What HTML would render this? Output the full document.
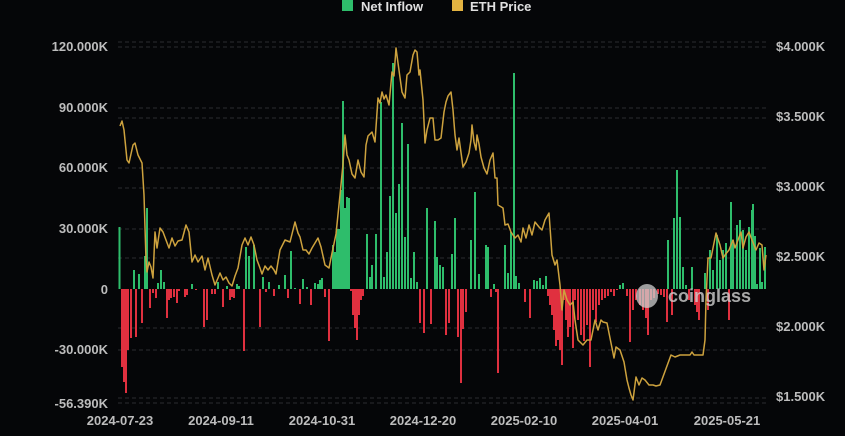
<!DOCTYPE html>
<html><head><meta charset="utf-8"><style>
html,body{margin:0;padding:0;background:#050608;}
svg{display:block;font-family:"Liberation Sans",sans-serif;}
</style></head><body>
<svg id="c" width="845" height="436" viewBox="0 0 845 436">
<rect width="845" height="436" fill="#050608"/>
<g stroke="#2a2c31" stroke-dasharray="4,3" stroke-width="1">
<line x1="118" x2="768" y1="42" y2="42"/><line x1="118" x2="768" y1="47" y2="47"/>
<line x1="118" x2="768" y1="108" y2="108"/><line x1="118" x2="768" y1="118" y2="118"/>
<line x1="118" x2="768" y1="168" y2="168"/><line x1="118" x2="768" y1="188" y2="188"/>
<line x1="118" x2="768" y1="229" y2="229"/><line x1="118" x2="768" y1="258" y2="258"/>
<line x1="118" x2="768" y1="328" y2="328"/><line x1="118" x2="768" y1="350" y2="350"/>
<line x1="118" x2="768" y1="398" y2="398"/><line x1="118" x2="768" y1="403" y2="403"/>
</g>
<g fill="#bdbdbd" font-size="13" text-anchor="end" font-weight="bold">
<text x="108" y="51">120.000K</text><text x="108" y="112">90.000K</text>
<text x="108" y="172">60.000K</text><text x="108" y="233">30.000K</text>
<text x="108" y="294">0</text><text x="108" y="354">-30.000K</text>
<text x="108" y="408">-56.390K</text>
</g>
<g fill="#bdbdbd" font-size="13" text-anchor="start" font-weight="bold">
<text x="776" y="51">$4.000K</text><text x="776" y="121">$3.500K</text>
<text x="776" y="191">$3.000K</text><text x="776" y="261">$2.500K</text>
<text x="776" y="331">$2.000K</text><text x="776" y="401">$1.500K</text>
</g>
<g fill="#bdbdbd" font-size="13" text-anchor="middle" font-weight="bold">
<text x="120" y="425">2024-07-23</text><text x="221" y="425">2024-09-11</text>
<text x="322" y="425">2024-10-31</text><text x="423" y="425">2024-12-20</text>
<text x="524" y="425">2025-02-10</text><text x="625" y="425">2025-04-01</text>
<text x="727" y="425">2025-05-21</text>
</g>
<rect x="342" y="0" width="11" height="11" fill="#2ebd6b"/>
<text x="361" y="11" fill="#e0e0e0" font-size="13" font-weight="bold">Net Inflow</text>
<rect x="452" y="0" width="11" height="11" fill="#e3b341"/>
<text x="470" y="11" fill="#e0e0e0" font-size="13" font-weight="bold">ETH Price</text>
<g id="bars"></g>
<text x="668" y="302" fill="#d0d0d0" fill-opacity="0.8" font-size="18" font-weight="bold">coinglass</text>
<ellipse cx="647" cy="296" rx="11" ry="12" fill="#cfcfcf" fill-opacity="0.75"/>
<polyline id="price" fill="none" stroke="#cda23e" stroke-width="1.5" stroke-linejoin="round"/>
</svg>
<script>
var b=[[119.5,227],[122,367],[124,382],[126,393],[128,350],[131,338],[134,270],[136,337],[139,274],[142,323],[145,256],[147,208],[150,308],[153,293],[156,298],[158,283],[161,270],[164,282],[167,318],[169,300],[171,298],[174,297],[177,303],[179,291],[185,297],[187,295],[192,284],[196,290],[204,327],[207,320],[212,294],[215,294],[218,282],[223,307],[227,286],[230,300],[232,297],[234,298],[237,284],[239,286],[244,351],[246,247],[249,256],[254,245],[260,327],[263,277],[266,292],[269,282],[274,296],[279,285],[285,275],[288,298],[291,251],[295,288],[300,304],[303,279],[307,287],[311,305],[315,283],[318,284],[320,280],[322,278],[325,297],[329,341],[333,245],[335,252],[337,229],[339,229],[341,190],[343,101],[345,208],[347,197],[349,198],[351,291],[353,315],[355,328],[357,340],[359,315],[361,300],[363,296],[367,234],[370,277],[372,265],[376,234],[381,102],[384,277],[387,252],[390,196],[393,63],[396,213],[399,184],[402,123],[405,237],[408,144],[411,278],[414,252],[417,282],[420,323],[424,333],[427,208],[431,324],[435,221],[437,257],[440,265],[443,267],[446,335],[449,323],[452,254],[455,218],[458,337],[461,383],[463,329],[466,312],[471,240],[475,192],[479,274],[486,245],[488,247],[491,297],[494,284],[496,292],[498,373],[505,245],[508,273],[511,232],[514,73],[516,276],[519,283],[525,302],[530,318],[534,280],[537,281],[540,278],[543,285],[546,276],[548,296],[550,305],[552,315],[554,330],[556,346],[558,340],[560,350],[562,365],[564,300],[566,320],[568,337],[570,327],[573,348],[575,300],[578,320],[581,335],[584,341],[587,325],[590,367],[593,310],[596,322],[599,305],[602,300],[605,298],[608,296],[611,292],[614,296],[617,290],[620,285],[623,283],[627,296],[630,342],[633,310],[636,300],[640,305],[643,310],[646,318],[648,335],[651,300],[654,298],[658,294],[661,295],[664,297],[667,322],[668,240],[672,315],[674,218],[677,170],[680,217],[683,267],[686,285],[689,300],[692,267],[695,305],[697,312],[699,320],[701,289],[705,273],[708,310],[710,250],[713,270],[717,235],[720,260],[723,250],[726,243],[729,320],[731,202],[733,240],[737,225],[740,220],[743,230],[746,250],[749,227],[752,210],[753,204],[755,236],[757,284],[760,248],[762,282],[765,247]];
var g=document.getElementById('bars'),s='';
b.forEach(function(p){var y=p[1],x=p[0]-1;if(y<289)s+='<rect x="'+x+'" y="'+y+'" width="2" height="'+(289-y)+'" fill="#2ebd6b"/>';else s+='<rect x="'+x+'" y="289" width="2" height="'+(y-289)+'" fill="#e0303f"/>';});
g.innerHTML=s;
var p="120,126 122,121 124,130 127,160 129,163 133,145 135,143 138,155 142,163 144,195 146,260 147,272 149,262 151,267 153,278 155,232 157,248 160,228 163,232 166,240 169,248 172,238 175,246 178,241 182,240 186,225 189,232 192,262 195,255 198,262 202,256 205,270 208,258 212,275 215,285 218,278 220,273 223,280 226,277 229,283 232,286 235,276 238,268 242,245 245,238 248,245 251,237 254,245 257,260 260,268 262,274 265,266 268,270 271,266 274,270 276,274 280,250 285,240 290,242 295,222 298,233 300,237 303,250 306,250 309,254 312,248 315,243 318,238 321,247 325,265 329,268 331,258 336,234 340,195 343,164 345,135 347,155 349,160 352,174 355,178 358,160 361,172 364,177 366,145 368,136 372,132 375,142 378,98 380,103 382,92 384,99 386,95 389,105 392,72 394,76 396,48 398,63 402,92 405,98 407,75 410,72 413,55 415,50 417,52 419,75 420,70 423,100 425,143 427,130 430,118 433,118 435,140 438,140 441,138 444,112 446,102 448,96 451,92 453,110 455,135 457,150 459,138 463,167 466,162 469,153 471,140 472,125 474,142 476,150 477,135 479,144 481,157 484,168 487,174 490,160 493,153 495,178 497,178 498,205 503,208 505,225 508,224 511,232 515,238 518,235 521,242 523,228 526,238 529,225 532,235 535,222 539,227 542,230 545,220 549,213 552,255 555,265 557,260 560,285 562,310 564,290 567,300 570,305 573,302 575,320 578,340 583,345 587,340 591,340 595,320 598,330 601,320 603,322 607,323 611,343 614,358 616,347 620,350 624,362 627,380 629,388 631,395 633,400 636,377 639,385 642,378 645,380 649,385 653,385 656,386 660,385 671,355 675,357 680,355 690,355 692,352 694,355 700,355 703,355 705,340 706,300 708,258 711,258 713,248 716,233 720,245 723,258 725,255 729,250 733,240 735,248 738,240 741,232 743,248 746,237 749,232 752,240 754,245 756,250 759,243 762,245 764,270 766,255";
document.getElementById('price').setAttribute('points',p);
</script>
</body></html>
